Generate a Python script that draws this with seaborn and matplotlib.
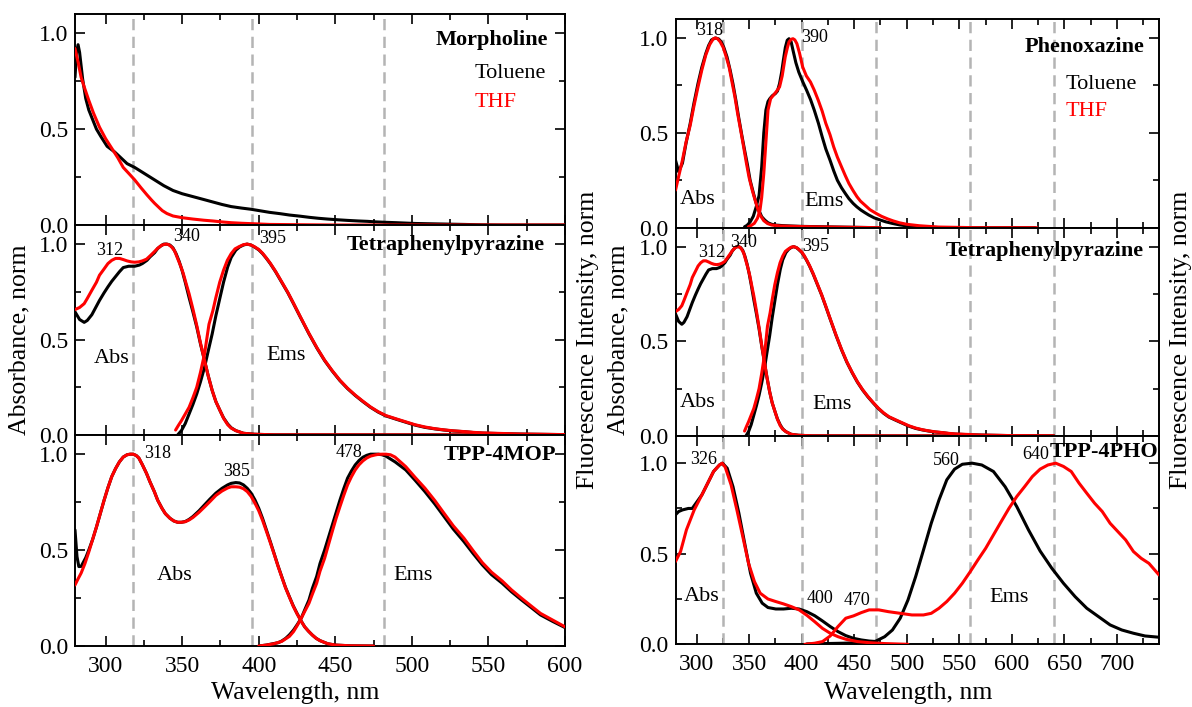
import numpy as np
import pandas as pd
import matplotlib
matplotlib.use("Agg")
import matplotlib.pyplot as plt
from matplotlib.ticker import MultipleLocator
import seaborn as sns

# ---------------- DATA ----------------
# Morpholine (left top)
MOR_TOL_WL = [280, 281, 282, 283, 285, 287, 289, 291, 294, 297, 301, 306, 310, 314, 319, 325, 332, 338, 344, 350,
              357, 364, 370, 376, 382, 389, 395, 401, 407, 414, 420, 427, 433, 439, 445, 452, 458, 465, 471, 477,
              483, 490, 496, 502, 508, 521, 534, 546, 560, 580, 600]
MOR_TOL = [0.77, 0.90, 0.94, 0.90, 0.76, 0.66, 0.60, 0.56, 0.50, 0.46, 0.41, 0.38, 0.35, 0.32, 0.30, 0.27, 0.235,
           0.205, 0.18, 0.163, 0.148, 0.133, 0.12, 0.107, 0.096, 0.088, 0.082, 0.074, 0.066, 0.059, 0.052, 0.046,
           0.04, 0.035, 0.031, 0.027, 0.024, 0.021, 0.019, 0.016, 0.014, 0.012, 0.010, 0.008, 0.007, 0.005, 0.003,
           0.001, 0.0, 0.0, 0.0]
MOR_THF_WL = [280, 282, 284, 286, 289, 292, 296, 300, 304, 308, 311.5, 315, 319, 323, 327, 330, 332, 335, 337, 340,
              344, 350, 357, 364, 370, 376, 382, 389, 395, 407, 420, 433, 450, 600]
MOR_THF = [0.92, 0.85, 0.77, 0.72, 0.65, 0.585, 0.51, 0.45, 0.40, 0.35, 0.30, 0.27, 0.235, 0.195, 0.157, 0.13, 0.113,
           0.09, 0.075, 0.06, 0.047, 0.038, 0.031, 0.025, 0.021, 0.016, 0.012, 0.009, 0.007, 0.003, 0.002, 0.001,
           0.0, 0.0]

# Tetraphenylpyrazine (middle panels)
TPZ_ABS_TOL_WL = [280, 283, 286, 288, 291, 294, 296, 299, 301.5, 304, 306.5, 309, 311.5, 315, 319, 322, 324, 327,
                  329, 332, 334, 336, 338, 340, 342, 344, 346, 348, 350, 352, 354.5, 357, 359.5, 362, 364.6, 367,
                  369.6, 372, 374.7, 377, 379.7, 382, 385, 390, 397, 410, 640]
TPZ_ABS_TOL = [0.645, 0.605, 0.59, 0.60, 0.63, 0.675, 0.705, 0.745, 0.776, 0.805, 0.83, 0.855, 0.877, 0.884, 0.884,
               0.89, 0.898, 0.915, 0.933, 0.955, 0.977, 0.99, 1.0, 1.0, 0.995, 0.98, 0.95, 0.91, 0.86, 0.80, 0.72,
               0.645, 0.566, 0.475, 0.39, 0.31, 0.233, 0.175, 0.128, 0.09, 0.058, 0.038, 0.023, 0.009, 0.004, 0.001,
               0.0]
TPZ_ABS_THF_WL = [280, 283, 286, 288, 291, 294, 296, 299, 301.5, 304, 306.5, 309, 311.5, 314, 316.6, 319, 321.7, 324,
                  326.7, 329, 331.8, 334, 336.8, 339.3, 341, 343, 345, 347, 349, 350.7, 352.5, 354.5, 357, 359.5,
                  362, 364.6, 367, 369.6, 372, 374.7, 377, 379.7, 382, 385, 390, 397, 410, 640]
TPZ_ABS_THF = [0.657, 0.668, 0.688, 0.715, 0.758, 0.80, 0.837, 0.87, 0.898, 0.915, 0.925, 0.925, 0.919, 0.912,
               0.907, 0.905, 0.907, 0.912, 0.921, 0.938, 0.96, 0.978, 0.995, 1.0, 0.998, 0.986, 0.965, 0.925, 0.885,
               0.846, 0.795, 0.74, 0.66, 0.574, 0.48, 0.39, 0.31, 0.233, 0.175, 0.128, 0.088, 0.054, 0.036, 0.023,
               0.009, 0.004, 0.001, 0.0]
TPZ_EMS_TOL_WL = [347, 349.5, 352, 354.5, 357, 359.5, 362, 364.6, 367, 369.6, 372, 374.7, 377, 379.7, 382, 385,
                  387.5, 390, 392.4, 395, 397, 400, 402.5, 405, 407.5, 411, 415, 419, 422.7, 427, 432.8, 438, 443,
                  448, 453, 458, 463, 468, 473, 478, 483, 490, 496, 502, 508.5, 515, 521, 527, 534, 540, 546, 559,
                  571, 584, 600, 620, 640]
TPZ_EMS_TOL = [0.0, 0.023, 0.06, 0.11, 0.16, 0.215, 0.28, 0.355, 0.44, 0.53, 0.625, 0.72, 0.80, 0.88, 0.93, 0.968,
               0.985, 0.995, 1.0, 0.995, 0.986, 0.97, 0.95, 0.925, 0.898, 0.855, 0.80, 0.745, 0.688, 0.62, 0.53,
               0.455, 0.39, 0.335, 0.285, 0.243, 0.207, 0.175, 0.145, 0.12, 0.10, 0.082, 0.067, 0.052, 0.04, 0.032,
               0.026, 0.021, 0.0175, 0.013, 0.01, 0.007, 0.005, 0.0035, 0.002, 0.001, 0.0]
TPZ_EMS_THF_WL = [345.7, 347.5, 349.5, 352, 354.5, 357, 359.5, 362, 364.6, 366, 367.5, 370, 372, 374.5, 377, 379.5,
                  382, 384.5, 387, 390, 392.4, 395, 397, 400, 402.5, 405, 407.5, 411, 415, 419, 422.7, 427, 432.8,
                  438, 443, 448, 453, 458, 463, 468, 473, 478, 483, 490, 496, 502, 508.5, 515, 521, 527, 534, 540,
                  546, 559, 571, 584, 600, 620, 640]
TPZ_EMS_THF = [0.026, 0.05, 0.075, 0.11, 0.145, 0.195, 0.25, 0.33, 0.425, 0.50, 0.58, 0.65, 0.72, 0.80, 0.863,
               0.915, 0.95, 0.975, 0.986, 0.997, 1.0, 0.995, 0.987, 0.972, 0.952, 0.927, 0.9, 0.857, 0.802, 0.747,
               0.69, 0.622, 0.532, 0.457, 0.392, 0.337, 0.287, 0.245, 0.209, 0.177, 0.147, 0.122, 0.102, 0.084,
               0.069, 0.054, 0.042, 0.033, 0.027, 0.022, 0.018, 0.014, 0.011, 0.008, 0.005, 0.004, 0.002, 0.001, 0.0]

# TPP-4MOP (left bottom)
MOP_ABS_TOL_WL = [280, 281.3, 282.5, 284, 285, 287, 289, 291.5, 294, 296.5, 299, 301.5, 304, 306.5, 309, 311.5, 314,
                  316, 318, 320, 321.7, 324, 326.7, 329, 331.8, 334, 336.8, 339, 342, 344.5, 347, 349.5, 352, 354.5,
                  357, 361, 364.6, 368, 372, 376, 379.7, 382, 385, 387.5, 390, 392.5, 395, 397.5, 400, 402.5, 405,
                  407.5, 410, 412.5, 415, 417.5, 420, 422.5, 425, 427.5, 430, 432.5, 435, 437.5, 440, 445, 450, 460,
                  475]
MOP_ABS_TOL = [0.605, 0.466, 0.414, 0.415, 0.43, 0.46, 0.50, 0.555, 0.62, 0.69, 0.76, 0.825, 0.883, 0.925, 0.96,
               0.985, 0.997, 1.0, 1.0, 0.993, 0.98, 0.945, 0.90, 0.855, 0.805, 0.76, 0.718, 0.69, 0.666, 0.652, 0.645,
               0.645, 0.649, 0.66, 0.675, 0.705, 0.736, 0.765, 0.797, 0.822, 0.84, 0.848, 0.852, 0.85, 0.84, 0.822,
               0.797, 0.762, 0.718, 0.665, 0.605, 0.545, 0.483, 0.42, 0.362, 0.305, 0.257, 0.21, 0.17, 0.133, 0.10,
               0.077, 0.057, 0.04, 0.028, 0.012, 0.005, 0.001, 0.0]
MOP_ABS_THF_WL = [280, 282, 284, 286.5, 289, 291.5, 294, 296.5, 299, 301.5, 304, 306.5, 309, 311.5, 314, 316, 318,
                  320, 321.7, 324, 326.7, 329, 331.8, 334, 336.8, 339, 342, 344.5, 347, 349.5, 352, 354.5, 357, 361,
                  364.6, 368, 372, 376, 379.7, 382, 385, 387.5, 390, 392.5, 395, 397.5, 400, 402.5, 405, 407.5, 410,
                  412.5, 415, 417.5, 420, 422.5, 425, 427.5, 430, 432.5, 435, 437.5, 440, 445, 450, 460, 475]
MOP_ABS_THF = [0.318, 0.35, 0.38, 0.43, 0.49, 0.555, 0.62, 0.69, 0.76, 0.825, 0.883, 0.925, 0.96, 0.985, 0.997, 1.0,
               1.0, 0.993, 0.98, 0.945, 0.90, 0.855, 0.805, 0.76, 0.718, 0.69, 0.666, 0.652, 0.645, 0.645, 0.648,
               0.657, 0.67, 0.697, 0.725, 0.752, 0.785, 0.808, 0.824, 0.83, 0.83, 0.828, 0.82, 0.805, 0.78, 0.745,
               0.705, 0.655, 0.598, 0.54, 0.48, 0.418, 0.36, 0.303, 0.255, 0.208, 0.168, 0.132, 0.10, 0.077, 0.057,
               0.04, 0.028, 0.012, 0.005, 0.001, 0.0]
MOP_EMS_TOL_WL = [400, 405, 407.5, 410, 412.6, 415, 417.6, 420, 422.7, 425, 427.7, 430, 432.8, 435, 437.8, 440, 443,
                  445.5, 448, 450.5, 453, 455.5, 458, 460.5, 463, 465.5, 468, 470.5, 473, 475.5, 478, 480.5, 483,
                  489, 496, 502, 508.5, 515, 521, 527, 534, 540, 546, 552, 559, 565, 571.6, 578, 584, 592, 600]
MOP_EMS_TOL = [0.0, 0.005, 0.009, 0.013, 0.017, 0.026, 0.04, 0.058, 0.083, 0.11, 0.144, 0.188, 0.24, 0.30, 0.362,
               0.43, 0.50, 0.565, 0.63, 0.695, 0.76, 0.82, 0.875, 0.912, 0.944, 0.967, 0.984, 0.994, 1.0, 1.0, 1.0,
               0.997, 0.99, 0.96, 0.918, 0.865, 0.805, 0.74, 0.675, 0.61, 0.544, 0.482, 0.423, 0.372, 0.327, 0.283,
               0.24, 0.20, 0.162, 0.128, 0.096]
MOP_EMS_THF_WL = [400, 405, 410, 415, 420, 422.7, 425, 427.7, 430, 432.8, 435, 437.8, 440, 443, 445.5, 448, 450.5,
                  453, 455.5, 458, 460.5, 463, 465.5, 468, 470.5, 473, 476, 478, 480.7, 483, 486, 489, 496, 502,
                  508.5, 515, 521, 527, 534, 540, 546, 552, 559, 565, 571.6, 578, 584, 592, 600]
MOP_EMS_THF = [0.0, 0.005, 0.012, 0.024, 0.05, 0.075, 0.105, 0.144, 0.18, 0.223, 0.27, 0.327, 0.39, 0.457, 0.527,
               0.597, 0.665, 0.726, 0.785, 0.84, 0.882, 0.918, 0.945, 0.965, 0.98, 0.99, 0.996, 0.999, 1.0, 1.0,
               0.997, 0.985, 0.935, 0.88, 0.823, 0.758, 0.692, 0.627, 0.562, 0.497, 0.435, 0.385, 0.339, 0.293,
               0.249, 0.208, 0.17, 0.135, 0.10]

# Phenoxazine (right top)
PHX_ABS_TOL_WL = [280, 283, 286.6, 290, 294, 297.5, 301.4, 305, 308.8, 311.5, 314.3, 318, 321, 323.5, 326, 329, 332,
                  334.6, 337.5, 340, 343, 345.7, 348.5, 351, 354, 356.8, 359.5, 362, 365, 368, 371.5, 375, 382, 390,
                  400, 419, 440, 475]
PHX_ABS_TOL = [0.356, 0.295, 0.34, 0.445, 0.55, 0.655, 0.76, 0.845, 0.918, 0.96, 0.99, 1.0, 0.995, 0.98, 0.95, 0.90,
               0.83, 0.76, 0.67, 0.585, 0.49, 0.41, 0.33, 0.25, 0.185, 0.128, 0.09, 0.058, 0.04, 0.026, 0.018, 0.014,
               0.011, 0.009, 0.007, 0.005, 0.003, 0.0]
PHX_ABS_THF_WL = [280, 283, 286.6, 290, 294, 297.5, 301.4, 305, 308.8, 312.5, 316, 318, 320, 322.5, 325.4, 328, 331,
                  333.5, 336.5, 339, 342, 345, 347.5, 350, 353, 356, 358.6, 361, 364, 367.5, 371.5, 380, 400, 420,
                  475]
PHX_ABS_THF = [0.198, 0.27, 0.356, 0.45, 0.54, 0.64, 0.742, 0.83, 0.91, 0.965, 0.996, 1.0, 0.996, 0.98, 0.95, 0.905,
               0.847, 0.775, 0.69, 0.605, 0.514, 0.42, 0.339, 0.265, 0.198, 0.14, 0.093, 0.062, 0.037, 0.022, 0.014,
               0.009, 0.006, 0.004, 0.0]
PHX_EMS_TOL_WL = [345.7, 348, 351, 354, 356.8, 359.5, 362, 364, 366, 368, 369.7, 372, 375, 377, 379, 381, 382.6,
                  384.5, 386.3, 388, 390, 391.8, 394.5, 397.3, 401, 404.7, 408.5, 412, 416, 419.5, 423, 427, 430.5,
                  434, 438, 441.6, 445, 449, 452.5, 456.4, 460, 463.8, 469, 475, 480, 486, 493, 500.7, 508, 515.4,
                  530, 560, 600, 622]
PHX_EMS_TOL = [0.005, 0.012, 0.03, 0.06, 0.11, 0.17, 0.32, 0.5, 0.62, 0.665, 0.68, 0.695, 0.707, 0.72, 0.76, 0.82,
               0.882, 0.95, 0.988, 0.996, 0.98, 0.935, 0.87, 0.82, 0.77, 0.725, 0.675, 0.62, 0.55, 0.48, 0.415, 0.356,
               0.30, 0.25, 0.21, 0.18, 0.153, 0.128, 0.11, 0.093, 0.08, 0.067, 0.052, 0.04, 0.031, 0.023, 0.015,
               0.009, 0.006, 0.0035, 0.001, 0.0, 0.0, 0.0]
PHX_EMS_THF_WL = [349.4, 352, 355, 358, 360.4, 362, 364, 366, 368, 370.5, 373.4, 376, 379, 381.5, 384.4, 386.5, 388,
                  390, 391.8, 393.5, 395.5, 398, 401, 404.5, 408.4, 412, 415.8, 419.5, 423, 427, 430.5, 434, 438,
                  441.5, 445, 449, 452.7, 456, 460, 465, 471, 476, 482, 487, 493, 500, 511.7, 530, 567, 624]
PHX_EMS_THF = [0.005, 0.012, 0.023, 0.05, 0.093, 0.16, 0.286, 0.45, 0.62, 0.68, 0.70, 0.718, 0.742, 0.80, 0.90, 0.95,
               0.979, 0.993, 0.996, 0.99, 0.97, 0.92, 0.847, 0.80, 0.768, 0.725, 0.672, 0.615, 0.55, 0.49, 0.426,
               0.372, 0.32, 0.275, 0.233, 0.195, 0.163, 0.14, 0.12, 0.095, 0.075, 0.06, 0.046, 0.036, 0.026, 0.018,
               0.0105, 0.0035, 0.0, 0.0]

# TPP-4PHO (right bottom)
PHO_ABS_TOL_WL = [280, 283, 286.7, 292.2, 295.9, 299.6, 305.1, 310.7, 316.2, 321.8, 324.7, 329.2, 334.7, 340.3,
                  345.8, 351.4, 356.9, 362.5, 368, 375.4, 382.8, 390.2, 397.6, 405, 412.4, 419.8, 427.2, 434.6, 442,
                  449.4, 456.8, 464.2, 471.6]
PHO_ABS_TOL = [0.715, 0.733, 0.742, 0.75, 0.75, 0.78, 0.825, 0.89, 0.954, 0.99, 1.0, 0.972, 0.87, 0.724, 0.558,
               0.392, 0.282, 0.227, 0.203, 0.195, 0.195, 0.199, 0.195, 0.18, 0.158, 0.129, 0.098, 0.07, 0.048, 0.033,
               0.024, 0.018, 0.015]
PHO_ABS_THF_WL = [280, 284.8, 290.4, 297.8, 305.1, 310.7, 316.2, 321.8, 324.4, 327.3, 332.9, 338.4, 344, 349.5,
                  355.1, 360.6, 368, 375.4, 382.8, 390.2, 397.6, 405, 412.4, 419.8, 427.2, 434.6, 442, 453.1, 464.2,
                  479, 501.2]
PHO_ABS_THF = [0.457, 0.512, 0.632, 0.742, 0.825, 0.89, 0.954, 0.99, 1.0, 0.978, 0.88, 0.742, 0.595, 0.447, 0.346,
               0.282, 0.25, 0.236, 0.223, 0.208, 0.19, 0.16, 0.125, 0.088, 0.061, 0.042, 0.028, 0.015, 0.009, 0.004,
               0.0]
PHO_EMS_TOL_WL = [405, 440, 460, 469.7, 479, 486.4, 493.8, 501.2, 508.5, 515.9, 523.3, 530.7, 538.1, 545.5, 552.9,
                  562.2, 571.4, 582.5, 593.6, 604.7, 615.8, 626.9, 638, 649.1, 660.2, 671.3, 682.4, 693.5, 704.6,
                  715.7, 726.7, 740]
PHO_EMS_TOL = [0.002, 0.006, 0.01, 0.015, 0.042, 0.079, 0.144, 0.245, 0.374, 0.52, 0.668, 0.797, 0.908, 0.967,
               0.994, 1.0, 0.99, 0.954, 0.87, 0.76, 0.632, 0.515, 0.42, 0.337, 0.263, 0.199, 0.153, 0.107, 0.079,
               0.061, 0.046, 0.039]
PHO_EMS_THF_WL = [403.1, 412.4, 419.8, 427.2, 434.6, 442, 449.4, 456.8, 464.2, 473.4, 482.7, 493.8, 504.9, 515.9,
                  523.3, 530.7, 538.1, 545.5, 552.9, 560.3, 567.7, 575.1, 582.5, 589.9, 597.3, 604.7, 612.1, 619.5,
                  626.9, 634.3, 641.7, 649.1, 656.5, 663.9, 671.3, 678.7, 686, 693.5, 700.9, 708.3, 715.7, 723,
                  730.4, 740]
PHO_EMS_THF = [0.0, 0.006, 0.015, 0.046, 0.098, 0.144, 0.157, 0.175, 0.19, 0.19, 0.18, 0.171, 0.162, 0.162, 0.171,
               0.199, 0.236, 0.282, 0.337, 0.40, 0.466, 0.53, 0.604, 0.678, 0.751, 0.816, 0.87, 0.926, 0.967, 0.99,
               1.0, 0.982, 0.954, 0.89, 0.834, 0.779, 0.733, 0.668, 0.622, 0.576, 0.512, 0.475, 0.447, 0.383]

LEFT_DASH = [318, 395.5, 482]
RIGHT_DASH = [325, 400, 471, 560, 640]

X_TICK_LABELS_LEFT = [300, 350, 400, 450, 500, 550, 600]
X_TICK_LABELS_RIGHT = [300, 350, 400, 450, 500, 550, 600, 650, 700]
Y_TICK_LABELS = ["0.0", "0.5", "1.0"]

# ---------------- STYLE ----------------
sns.set_theme(style="ticks")
plt.rcParams["font.family"] = ["Liberation Serif", "DejaVu Serif"]
plt.rcParams["xtick.direction"] = "in"
plt.rcParams["ytick.direction"] = "in"
plt.rcParams["text.color"] = "black"
plt.rcParams["axes.labelcolor"] = "black"
plt.rcParams["xtick.color"] = "black"
plt.rcParams["ytick.color"] = "black"
plt.rcParams["axes.edgecolor"] = "black"

BLACK = "#000000"
RED = "#ff0000"
DASHC = "#b4b4b4"
LW = 2.2
TICK_FS = 17
LAB_FS = 18.5
TXT_FS = 16
PK_FS = 13

fig = plt.figure(figsize=(11.92, 7.07), dpi=100)

W, H = 1192.0, 707.0


def make_ax(x0, x1, y0, y1):
    return fig.add_axes([x0 / W, 1 - y1 / H, (x1 - x0) / W, (y1 - y0) / H])


L = [make_ax(75, 565, 14, 225), make_ax(75, 565, 225, 435), make_ax(75, 565, 435, 646)]
R = [make_ax(675.5, 1159, 19, 227.7), make_ax(675.5, 1159, 227.7, 436), make_ax(675.5, 1159, 436, 644.3)]


def style(ax, xlim, ylim, dashes, bottom):
    ax.set_xlim(*xlim)
    ax.set_ylim(*ylim)
    for d in dashes:
        ax.axvline(d, color=DASHC, lw=1.8, ls=(0, (4.5, 2.6)), zorder=1)
    ax.xaxis.set_major_locator(MultipleLocator(50))
    ax.xaxis.set_minor_locator(MultipleLocator(25))
    ax.yaxis.set_major_locator(MultipleLocator(0.5))
    ax.yaxis.set_minor_locator(MultipleLocator(0.25))
    ax.tick_params(which="both", direction="in", top=True, right=True, width=1.2, colors="black")
    ax.tick_params(which="major", length=7.5)
    ax.tick_params(which="minor", length=4.5)
    ax.tick_params(axis="y", labelsize=TICK_FS, pad=5)
    ax.tick_params(axis="x", labelsize=TICK_FS, pad=7, labelbottom=bottom)
    ax.set_yticks([0.0, 0.5, 1.0])
    ax.set_yticklabels(Y_TICK_LABELS)
    for s in ax.spines.values():
        s.set_linewidth(1.4)
        s.set_color("black")
    ax.set_xlabel("")
    ax.set_ylabel("")
    ax.set_facecolor("white")


def curve(ax, wl, val, color):
    df = pd.DataFrame({"wl": wl, "v": val})
    sns.lineplot(data=df, x="wl", y="v", ax=ax, color=color, linewidth=LW, estimator=None, sort=False,
                 legend=False, zorder=3)


# left column
curve(L[0], MOR_TOL_WL, MOR_TOL, BLACK)
curve(L[0], MOR_THF_WL, MOR_THF, RED)
for ax in (L[1], R[1]):
    curve(ax, TPZ_ABS_TOL_WL, TPZ_ABS_TOL, BLACK)
    curve(ax, TPZ_EMS_TOL_WL, TPZ_EMS_TOL, BLACK)
    curve(ax, TPZ_ABS_THF_WL, TPZ_ABS_THF, RED)
    curve(ax, TPZ_EMS_THF_WL, TPZ_EMS_THF, RED)
curve(L[2], MOP_ABS_TOL_WL, MOP_ABS_TOL, BLACK)
curve(L[2], MOP_EMS_TOL_WL, MOP_EMS_TOL, BLACK)
curve(L[2], MOP_ABS_THF_WL, MOP_ABS_THF, RED)
curve(L[2], MOP_EMS_THF_WL, MOP_EMS_THF, RED)
# right column
curve(R[0], PHX_ABS_TOL_WL, PHX_ABS_TOL, BLACK)
curve(R[0], PHX_EMS_TOL_WL, PHX_EMS_TOL, BLACK)
curve(R[0], PHX_ABS_THF_WL, PHX_ABS_THF, RED)
curve(R[0], PHX_EMS_THF_WL, PHX_EMS_THF, RED)
curve(R[2], PHO_ABS_TOL_WL, PHO_ABS_TOL, BLACK)
curve(R[2], PHO_EMS_TOL_WL, PHO_EMS_TOL, BLACK)
curve(R[2], PHO_ABS_THF_WL, PHO_ABS_THF, RED)
curve(R[2], PHO_EMS_THF_WL, PHO_EMS_THF, RED)

for i, ax in enumerate(L):
    style(ax, (280, 600), (0, 1.1), LEFT_DASH, i == 2)
    ax.set_xticks(X_TICK_LABELS_LEFT)
    ax.set_xticklabels([str(v) for v in X_TICK_LABELS_LEFT] if i == 2 else [])
for i, ax in enumerate(R):
    style(ax, (280, 740), (0, 1.15 if i == 2 else 1.1), RIGHT_DASH, i == 2)
    ax.set_xticks(X_TICK_LABELS_RIGHT)
    ax.set_xticklabels([str(v) for v in X_TICK_LABELS_RIGHT] if i == 2 else [])


def t(ax, x, y, s, size=TXT_FS, ha="center", color="black", bold=False):
    ax.text(x, y, s, fontsize=size, ha=ha, va="center", color=color,
            fontweight="bold" if bold else "normal", zorder=5)


# left top
t(L[0], 589, 0.965, "Morpholine", ha="right", bold=True)
t(L[0], 541, 0.79, "Toluene", ha="left")
t(L[0], 541, 0.64, "THF", ha="left", color=RED)
# left middle
t(L[1], 587, 0.995, "Tetraphenylpyrazine", ha="right", bold=True)
t(L[1], 302.7, 0.968, "312", size=PK_FS)
t(L[1], 353, 1.04, "340", size=PK_FS)
t(L[1], 409, 1.03, "395", size=PK_FS)
t(L[1], 304, 0.40, "Abs")
t(L[1], 417.6, 0.417, "Ems")
# left bottom
t(L[2], 594, 0.997, "TPP-4MOP", ha="right", bold=True)
t(L[2], 334, 1.005, "318", size=PK_FS)
t(L[2], 385.3, 0.91, "385", size=PK_FS)
t(L[2], 459, 1.01, "478", size=PK_FS)
t(L[2], 345, 0.365, "Abs")
t(L[2], 501, 0.365, "Ems")
# right top
t(R[0], 726, 0.953, "Phenoxazine", ha="right", bold=True)
t(R[0], 651, 0.756, "Toluene", ha="left")
t(R[0], 651, 0.61, "THF", ha="left", color=RED)
t(R[0], 312.5, 1.04, "318", size=PK_FS)
t(R[0], 412, 1.0, "390", size=PK_FS)
t(R[0], 300.7, 0.149, "Abs")
t(R[0], 421.7, 0.137, "Ems")
# right middle
t(R[1], 726, 0.979, "Tetraphenylpyrazine", ha="right", bold=True)
t(R[1], 314, 0.97, "312", size=PK_FS)
t(R[1], 345, 1.023, "340", size=PK_FS)
t(R[1], 413, 1.0, "395", size=PK_FS)
t(R[1], 300.7, 0.176, "Abs")
t(R[1], 429.4, 0.164, "Ems")
# right bottom
t(R[2], 739.5, 1.059, "TPP-4PHO", ha="right", bold=True)
t(R[2], 306.3, 1.022, "326", size=PK_FS)
t(R[2], 622.5, 1.05, "640", size=PK_FS)
t(R[2], 537.4, 1.015, "560", size=PK_FS)
t(R[2], 417.2, 0.254, "400", size=PK_FS)
t(R[2], 453, 0.241, "470", size=PK_FS)
t(R[2], 305.1, 0.263, "Abs")
t(R[2], 597.3, 0.258, "Ems")

# axis labels
yc = 1 - 340 / H
fig.text(19 / W, yc, "Absorbance, norm", rotation=90, ha="center", va="center", fontsize=LAB_FS, color="black")
fig.text(588 / W, yc, "Fluorescence Intensity, norm", rotation=90, ha="center", va="center", fontsize=LAB_FS,
         color="black")
fig.text(618 / W, yc, "Absorbance, norm", rotation=90, ha="center", va="center", fontsize=LAB_FS, color="black")
fig.text(1181 / W, yc, "Fluorescence Intensity, norm", rotation=90, ha="center", va="center", fontsize=LAB_FS,
         color="black")
fig.text(295 / W, 1 - 693 / H, "Wavelength, nm", ha="center", va="center", fontsize=LAB_FS, color="black")
fig.text(908 / W, 1 - 693 / H, "Wavelength, nm", ha="center", va="center", fontsize=LAB_FS, color="black")

fig.savefig("out.png", dpi=100, facecolor="white")
